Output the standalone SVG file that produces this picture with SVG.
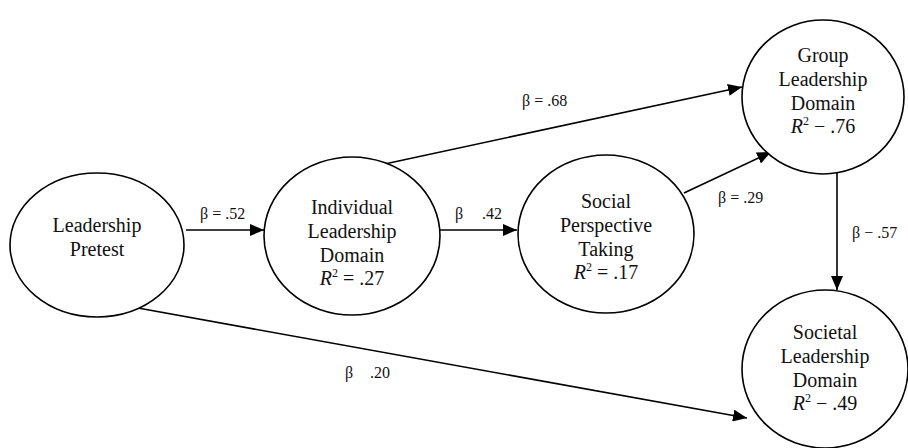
<svg xmlns="http://www.w3.org/2000/svg" width="908" height="448" viewBox="0 0 908 448">
<defs>
<marker id="arr" viewBox="0 0 14 12" refX="14" refY="6" markerWidth="14" markerHeight="12" markerUnits="userSpaceOnUse" orient="auto">
<path d="M0,0 L14,6 L0,12 Z" fill="#000"/>
</marker>
</defs>
<style>
text{font-family:'Liberation Serif','Times New Roman',serif}
.node ellipse{fill:#fff;stroke:#000;stroke-width:1.6}
.node text{font-size:20px;text-anchor:middle;fill:#111}
.edges line{stroke:#000;stroke-width:1.6;marker-end:url(#arr)}
.lbl{font-size:16px;fill:#111}
.it{font-style:italic}
.sup{font-size:12px}
</style>
<rect width="908" height="448" fill="#fff"/>
<g class="edges">
<line x1="186" y1="230" x2="264" y2="230"/>
<line x1="440" y1="230" x2="517" y2="230"/>
<line x1="380" y1="165" x2="742" y2="87"/>
<line x1="684" y1="193" x2="771" y2="152"/>
<line x1="837" y1="173" x2="837" y2="290"/>
<line x1="138" y1="308" x2="747" y2="418"/>
<text class="lbl" x="200" y="219">β = .52</text>
<text class="lbl" x="455" y="219"><tspan>β</tspan><tspan x="482">.42</tspan></text>
<text class="lbl" x="522" y="106">β = .68</text>
<text class="lbl" x="718" y="203">β = .29</text>
<text class="lbl" x="852" y="238">β − .57</text>
<text class="lbl" x="345" y="378"><tspan>β</tspan><tspan x="370">.20</tspan></text>
</g>
<g id="pretest" class="node">
<ellipse cx="97" cy="245" rx="87" ry="72"/>
<text x="97" y="232">Leadership</text>
<text x="97" y="256">Pretest</text>
</g>
<g id="individual" class="node">
<ellipse cx="352" cy="236" rx="88" ry="79"/>
<text x="352" y="214">Individual</text>
<text x="352" y="238">Leadership</text>
<text x="352" y="262">Domain</text>
<text x="352" y="285"><tspan class="it">R</tspan><tspan class="sup" dy="-8">2</tspan><tspan dy="8"> = .27</tspan></text>
</g>
<g id="social" class="node">
<ellipse cx="606" cy="234" rx="88" ry="79"/>
<text x="606" y="208">Social</text>
<text x="606" y="232">Perspective</text>
<text x="606" y="256">Taking</text>
<text x="606" y="279"><tspan class="it">R</tspan><tspan class="sup" dy="-8">2</tspan><tspan dy="8"> = .17</tspan></text>
</g>
<g id="group" class="node">
<ellipse cx="823" cy="97" rx="81" ry="77"/>
<text x="823" y="62">Group</text>
<text x="823" y="86">Leadership</text>
<text x="823" y="110">Domain</text>
<text x="823" y="133"><tspan class="it">R</tspan><tspan class="sup" dy="-8">2</tspan><tspan dy="8"> − .76</tspan></text>
</g>
<g id="societal" class="node">
<ellipse cx="825" cy="369" rx="83" ry="79"/>
<text x="825" y="339">Societal</text>
<text x="825" y="363">Leadership</text>
<text x="825" y="387">Domain</text>
<text x="825" y="410"><tspan class="it">R</tspan><tspan class="sup" dy="-8">2</tspan><tspan dy="8"> − .49</tspan></text>
</g>
</svg>
